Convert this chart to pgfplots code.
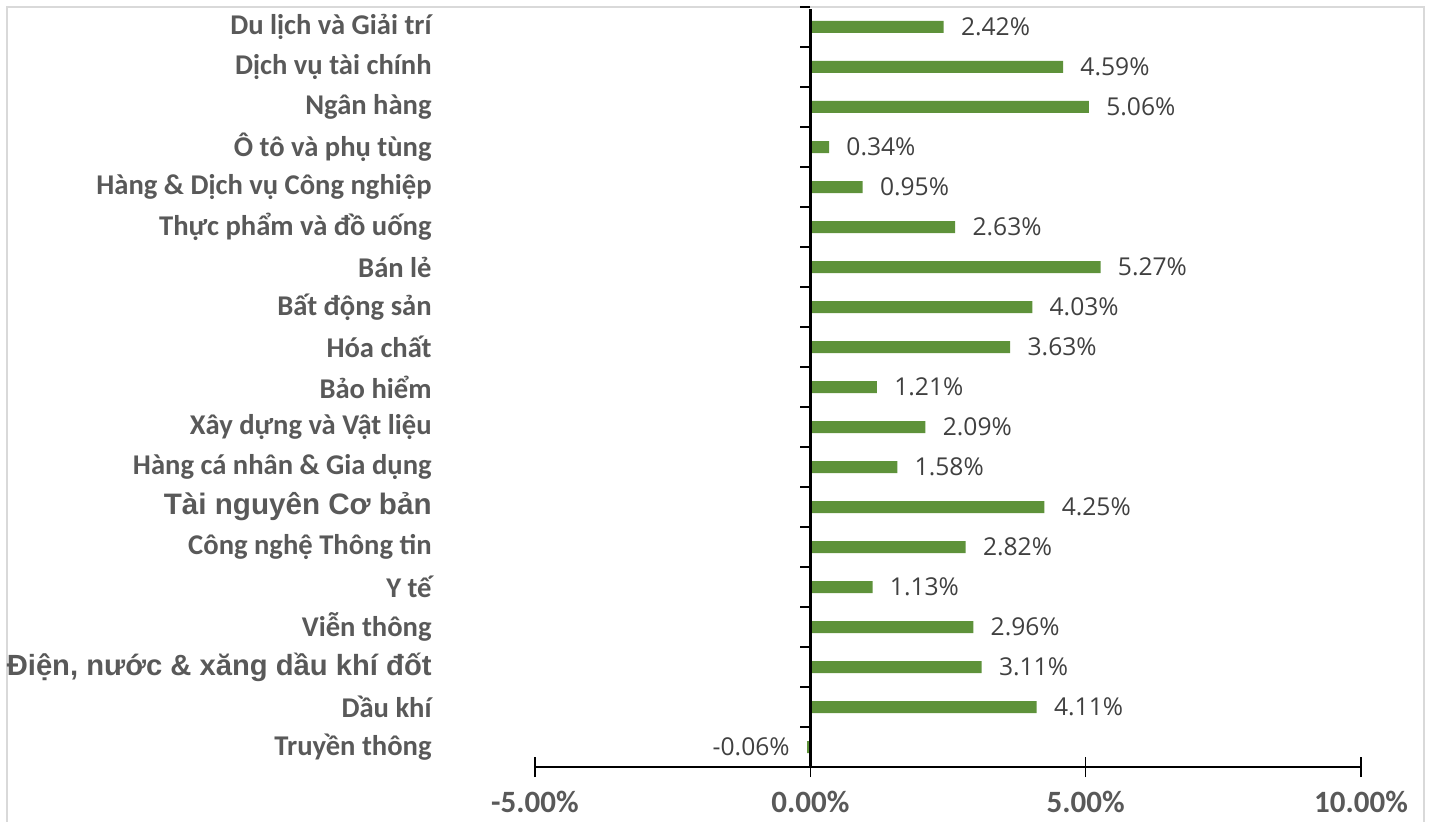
\documentclass[border=0pt]{standalone}
\usepackage{fontspec}
\setmainfont{Carlito}
\newfontfamily\arialfont{Liberation Sans}
\newfontfamily\valfont{Open Sans}
\usepackage{pgfplots}
\pgfplotsset{compat=1.18}
\definecolor{bargreen}{RGB}{94,146,58}
\definecolor{lblgray}{RGB}{89,89,89}
\definecolor{valgray}{RGB}{64,64,64}
\definecolor{framegray}{RGB}{217,217,217}
\pgfplotstableread{
y val
0 -0.06
1 4.11
2 3.11
3 2.96
4 1.13
5 2.82
6 4.25
7 1.58
8 2.09
9 1.21
10 3.63
11 4.03
12 5.27
13 2.63
14 0.95
15 0.34
16 5.06
17 4.59
18 2.42
}\datatable
\begin{document}
\begin{tikzpicture}
\useasboundingbox (0,0) rectangle (716.5pt,410.5pt);
\draw[framegray, line width=1pt] (3.5pt,-2pt) -- (3.5pt,407pt) -- (712pt,407pt) -- (712pt,-2pt);
\begin{axis}[
  at={(267.5pt,27pt)}, anchor=south west,
  scale only axis, width=413pt, height=380pt,
  xmin=-5, xmax=10, ymin=-0.5, ymax=18.5,
  clip=false,
  xbar, bar width=6pt,
  axis x line*=bottom, axis y line*=left,
  y axis line style={draw=none},
  x axis line style={-, black, line width=0.75pt},
  xtick={-5,0,5,10},
  xtick style={black, line width=0.75pt},
  tick align=center, major tick length=10pt,
  ytick={0,...,18}, ytick style={draw=none},
  /pgf/number format/assume math mode=true,
  yticklabels={Truyền thông, Dầu khí, {\arialfont\fontsize{14.6}{16}\selectfont\bfseries Điện, nước \& xăng dầu khí đốt}, Viễn thông, Y tế, Công nghệ Thông tin, {\arialfont\fontsize{14.8}{16}\selectfont\bfseries Tài nguyên Cơ bản}, Hàng cá nhân \& Gia dụng, Xây dựng và Vật liệu, Bảo hiểm, Hóa chất, Bất động sản, Bán lẻ, Thực phẩm và đồ uống, Hàng \& Dịch vụ Công nghiệp, Ô tô và phụ tùng, Ngân hàng, Dịch vụ tài chính, Du lịch và Giải trí},
  yticklabel style={font=\fontsize{14.3}{16}\selectfont\bfseries, text=lblgray, anchor=east, inner sep=0pt, xshift=-46.5pt},
  xticklabel={\pgfmathprintnumber[fixed,fixed zerofill,precision=2]{\tick}\%},
  xticklabel style={font=\fontsize{15.5}{17}\selectfont\bfseries, text=lblgray, inner ysep=0pt, yshift=-7pt},
  point meta=x,
  nodes near coords={\pgfmathprintnumber[fixed,fixed zerofill,precision=2]{\pgfplotspointmeta}\%},
  nodes near coords style={font=\valfont\fontsize{12.3}{14}\selectfont, text=valgray, inner xsep=8.5pt, inner ysep=0pt},
]
\addplot[fill=bargreen, draw=none] table[x=val, y=y] {\datatable};
\draw[black, line width=1.3pt] (axis cs:0,-0.5) -- (axis cs:0,18.45);
\pgfplotsinvokeforeach{-0.5,0.5,...,18.5}{\draw[black, line width=1pt] (axis cs:0,#1) -- ++(-5pt,0pt);}
\end{axis}
\end{tikzpicture}
\end{document}
